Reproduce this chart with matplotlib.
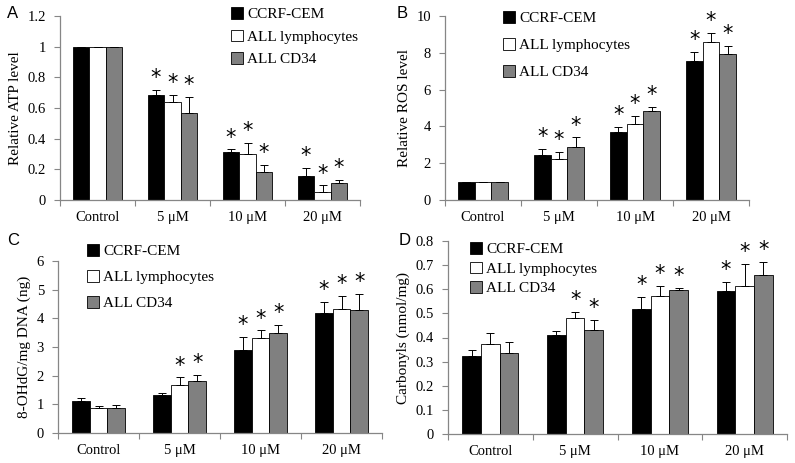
import numpy as np
import matplotlib
matplotlib.use("Agg")
import matplotlib.pyplot as plt
from matplotlib.patches import Patch

plt.rcParams["font.family"] = ["Liberation Serif", "DejaVu Serif"]

groups = ["Control", "5 \u03bcM", "10 \u03bcM", "20 \u03bcM"]
series = ["CCRF-CEM", "ALL lymphocytes", "ALL CD34"]
colors = ["black", "white", "#808080"]

# panel A - relative ATP
atp = [[1, 0.685, 0.31, 0.157],
       [1, 0.64, 0.30, 0.055],
       [1, 0.57, 0.185, 0.113]]
atp_err = [[0, 0.035, 0.02, 0.05],
           [0, 0.045, 0.07, 0.04],
           [0, 0.10, 0.045, 0.02]]
atp_star = [[0, 1, 1, 1], [0, 1, 1, 1], [0, 1, 1, 1]]

# panel B - relative ROS
ros = [[1, 2.45, 3.68, 7.57],
       [1, 2.25, 4.11, 8.59],
       [1, 2.88, 4.82, 7.93]]
ros_err = [[0, 0.33, 0.29, 0.46],
           [0, 0.38, 0.44, 0.47],
           [0, 0.52, 0.22, 0.46]]
ros_star = [[0, 1, 1, 1], [0, 1, 1, 1], [0, 1, 1, 1]]

# panel C - 8-OHdG
ohdg = [[1.125, 1.31, 2.88, 4.20],
        [0.88, 1.67, 3.33, 4.34],
        [0.86, 1.81, 3.50, 4.29]]
ohdg_err = [[0.10, 0.10, 0.48, 0.37],
            [0.06, 0.27, 0.25, 0.45],
            [0.11, 0.21, 0.27, 0.56]]
ohdg_star = [[0, 0, 1, 1], [0, 1, 1, 1], [0, 1, 1, 1]]

# panel D - carbonyls
carb = [[0.325, 0.411, 0.519, 0.594],
        [0.375, 0.480, 0.574, 0.614],
        [0.337, 0.430, 0.596, 0.658]]
carb_err = [[0.025, 0.017, 0.048, 0.035],
            [0.045, 0.026, 0.041, 0.092],
            [0.046, 0.043, 0.008, 0.055]]
carb_star = [[0, 0, 1, 1], [0, 1, 1, 1], [0, 1, 1, 1]]

W, H = 795, 463
fig = plt.figure(figsize=(W / 100, H / 100), dpi=100)


def px_axes(l, t, r, b):
    return fig.add_axes([l / W, 1 - b / H, (r - l) / W, (b - t) / H])


def panel(ax, vals, errs, stars, ymax, ystep, ylabel, fmt, leg_xy, leg_sp, letter, letter_xy):
    x = np.arange(len(groups))
    w = 0.22
    for i in range(3):
        v = np.array(vals[i])
        e = np.array(errs[i])
        ax.bar(x + (i - 1) * w, v, w, color=colors[i], edgecolor="black", linewidth=0.6, zorder=2)
        ax.errorbar(x + (i - 1) * w, v, yerr=[np.zeros_like(e), e], fmt="none",
                    ecolor="black", elinewidth=0.7, capsize=3, capthick=0.7, zorder=3)
        for j in range(len(groups)):
            if stars[i][j]:
                ax.text(x[j] + (i - 1) * w, v[j] + e[j] + ymax * 0.01, "*",
                        ha="center", va="bottom", fontsize=15, family="DejaVu Sans")
    ax.set_xlim(-0.5, len(groups) - 0.5)
    ax.set_ylim(0, ymax)
    ticks = np.arange(0, ymax + ystep / 2, ystep)
    ax.set_yticks(ticks)
    ax.set_yticklabels([fmt(t) for t in ticks], fontsize=10.5)
    ax.set_xticks(np.arange(-0.5, len(groups), 1.0))
    ax.set_xticklabels([])
    ax.set_xticks(x, minor=True)
    ax.set_xticklabels(groups, minor=True, fontsize=10.5)
    ax.tick_params(axis="x", which="major", direction="out", length=4, color="#868686")
    ax.tick_params(axis="x", which="minor", length=0, pad=8)
    ax.tick_params(axis="y", direction="out", length=4, color="#868686", pad=6)
    for s in ["top", "right"]:
        ax.spines[s].set_visible(False)
    for s in ["left", "bottom"]:
        ax.spines[s].set_color("#868686")
        ax.spines[s].set_linewidth(0.9)
    ax.set_ylabel(ylabel, fontsize=11)
    handles = [Patch(facecolor=c, edgecolor="black", linewidth=0.6) for c in colors]
    ax.legend(handles, series, loc="upper left",
              bbox_to_anchor=(leg_xy[0] / W, 1 - leg_xy[1] / H), bbox_transform=fig.transFigure,
              frameon=False, borderpad=0, borderaxespad=0, handlelength=0.8, handleheight=0.8,
              handletextpad=0.25, labelspacing=leg_sp, prop={"family": "Liberation Serif", "size": 11})
    fig.text(letter_xy[0] / W, 1 - letter_xy[1] / H, letter, family="Liberation Sans",
             fontsize=12, ha="left", va="center")


def dec(t):
    return "0" if t == 0 else ("%g" % round(t, 2))


axA = px_axes(60, 16, 360, 200)
panel(axA, atp, atp_err, atp_star, 1.2, 0.2, "Relative ATP level", dec,
      (231, 7), 0.55, "A", (7, 14))

axB = px_axes(445, 16, 749, 200)
panel(axB, ros, ros_err, ros_star, 10, 2, "Relative ROS level", dec,
      (503, 11), 0.85, "B", (397, 14))

axC = px_axes(58, 261, 382, 433)
panel(axC, ohdg, ohdg_err, ohdg_star, 6, 1, "8-OHdG/mg DNA (ng)", dec,
      (87, 244), 0.78, "C", (7, 240))

axD = px_axes(448, 241, 787, 434)
panel(axD, carb, carb_err, carb_star, 0.8, 0.1, "Carbonyls (nmol/mg)", dec,
      (470, 242), 0.35, "D", (399, 240))

fig.savefig("out.png", dpi=100)
